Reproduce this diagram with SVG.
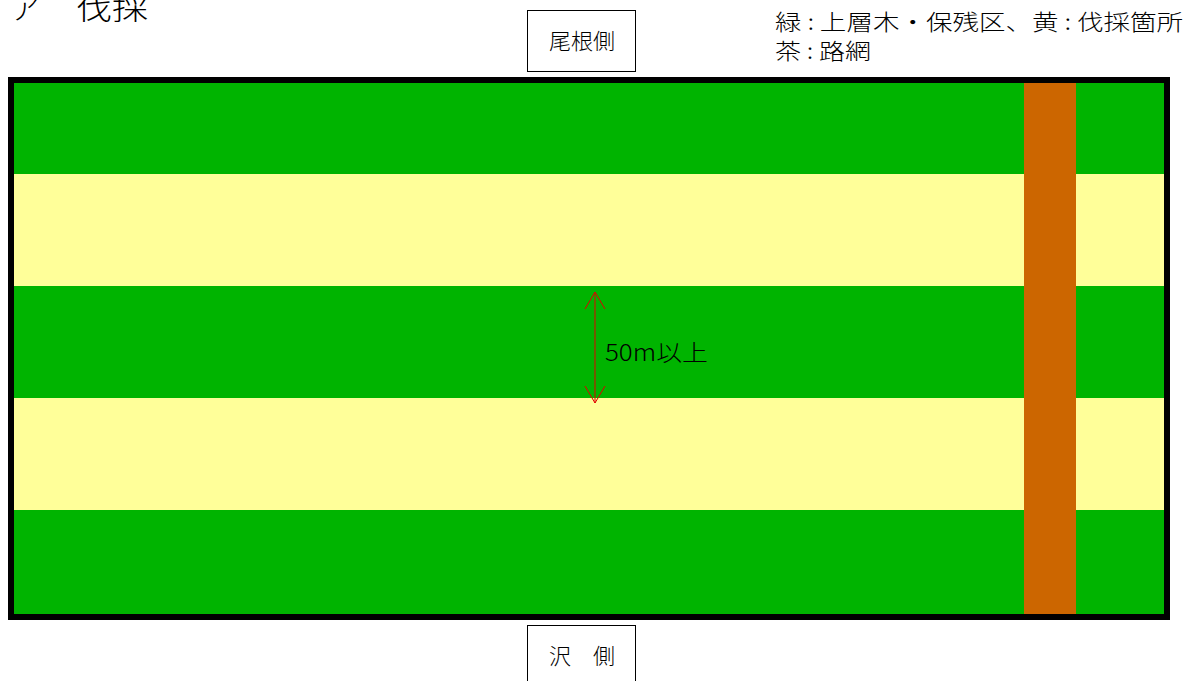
<svg xmlns="http://www.w3.org/2000/svg" width="1197" height="681" viewBox="0 0 1197 681">
<style>
.t{font-family:"Noto Sans CJK JP","Noto Sans CJK SC",sans-serif;fill:#000;font-weight:300}
.box{fill:#fff;stroke:#000;stroke-width:1}
.g{fill:#00b400}
.y{fill:#ffff99}
.arr{fill:none;stroke:#e00000;stroke-width:1}
</style>
<text class="t" x="10" y="19" font-size="30">ア</text>
<text class="t" x="76" y="19" font-size="30" textLength="72" lengthAdjust="spacingAndGlyphs">伐採</text>
<g id="legend">
<text class="t" x="775" y="30" font-size="22" textLength="408" lengthAdjust="spacingAndGlyphs">緑 : 上層木・保残区、黄 : 伐採箇所</text>
<text class="t" x="775" y="59" font-size="22" textLength="96" lengthAdjust="spacingAndGlyphs">茶 : 路網</text>
</g>
<g id="ridge">
<rect class="box" x="527.5" y="10.5" width="108" height="61"/>
<text class="t" x="582" y="49" font-size="22" text-anchor="middle">尾根側</text>
</g>
<g id="valley">
<rect class="box" x="527.5" y="625.5" width="108" height="60"/>
<text class="t" x="582" y="664" font-size="22" text-anchor="middle">沢　側</text>
</g>
<g id="field">
<rect x="8" y="77" width="1162" height="543" fill="#000"/>
<rect class="g" x="14" y="83" width="1150" height="91"/>
<rect class="y" x="14" y="174" width="1150" height="112"/>
<rect class="g" x="14" y="286" width="1150" height="112"/>
<rect class="y" x="14" y="398" width="1150" height="112"/>
<rect class="g" x="14" y="510" width="1150" height="104"/>
<rect x="1024" y="83" width="52" height="531" fill="#cc6600"/>
</g>
<g id="connectors">
<line class="arr" x1="595" y1="292" x2="595" y2="403"/>
<path class="arr" d="M585,309 L595,292 L605,309"/>
<path class="arr" d="M585,386 L595,403 L605,386"/>
</g>
<text class="t" x="605" y="361" font-size="23" textLength="103" lengthAdjust="spacingAndGlyphs">50m以上</text>
</svg>
